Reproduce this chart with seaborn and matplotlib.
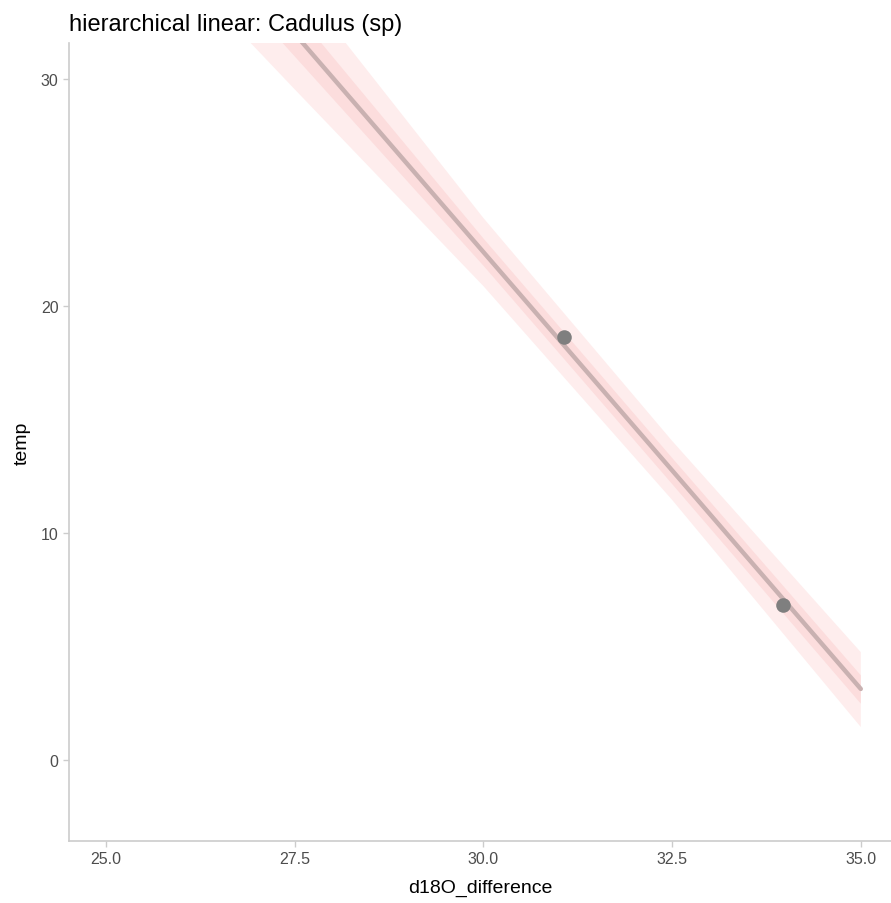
import matplotlib
matplotlib.use("Agg")
import matplotlib.pyplot as plt
import seaborn as sns
import pandas as pd
import numpy as np

# observed samples
obs_d18o = [31.07, 33.97]
obs_temp = [18.63, 6.83]

# fitted relationship with credible bands
grid_x = [25.0, 27.5, 30.0, 32.5, 35.0]
fit_y = [41.63, 32.00, 22.38, 12.76, 3.13]
outer_lo = [38.30, 29.55, 20.88, 11.46, 1.45]
outer_hi = [44.90, 34.45, 23.88, 14.06, 4.75]
inner_lo = [40.23, 31.00, 21.78, 12.16, 2.48]
inner_hi = [43.03, 33.00, 22.98, 13.31, 3.73]

fit = pd.DataFrame({"d18O_difference": grid_x, "temp": fit_y})
obs = pd.DataFrame({"d18O_difference": obs_d18o, "temp": obs_temp})

sns.set_theme(style="white")
plt.rcParams["font.family"] = ["Liberation Sans", "DejaVu Sans"]

fig = plt.figure(figsize=(8.91, 9.04), dpi=100)
ax = fig.add_axes([69 / 891, 1 - 842 / 904, 1 - 69 / 891, (842 - 44) / 904])

ax.fill_between(grid_x, outer_lo, outer_hi, color="#FEEDED", linewidth=0, zorder=1)
ax.fill_between(grid_x, inner_lo, inner_hi, color="#FCDDDD", linewidth=0, zorder=2)
sns.lineplot(data=fit, x="d18O_difference", y="temp", ax=ax, color="#C9B1B1",
             linewidth=3.2, zorder=3)
sns.scatterplot(data=obs, x="d18O_difference", y="temp", ax=ax, color="#7F7F7F",
                s=110, linewidth=0, zorder=4)

ax.set_xlim(24.51, 35.40)
ax.set_ylim(-3.57, 31.59)
ax.set_xticks([25.0, 27.5, 30.0, 32.5, 35.0])
ax.set_xticklabels(["25.0", "27.5", "30.0", "32.5", "35.0"])
ax.set_yticks([0, 10, 20, 30])

for side in ["top", "right"]:
    ax.spines[side].set_visible(False)
for side in ["left", "bottom"]:
    ax.spines[side].set_color("#CCCCCC")
    ax.spines[side].set_linewidth(1.2)
ax.tick_params(axis="both", colors="#CCCCCC", labelcolor="#4D4D4D",
               labelsize=11.5, length=4, width=1, bottom=True, left=True)

ax.set_xlabel("d18O_difference", fontsize=14, color="black", labelpad=9)
ax.set_ylabel("temp", fontsize=14, color="black", labelpad=7)
ax.set_title("hierarchical linear: Cadulus (sp)", loc="left", fontsize=17,
             color="black", pad=9)

fig.savefig("out.png", dpi=100)
